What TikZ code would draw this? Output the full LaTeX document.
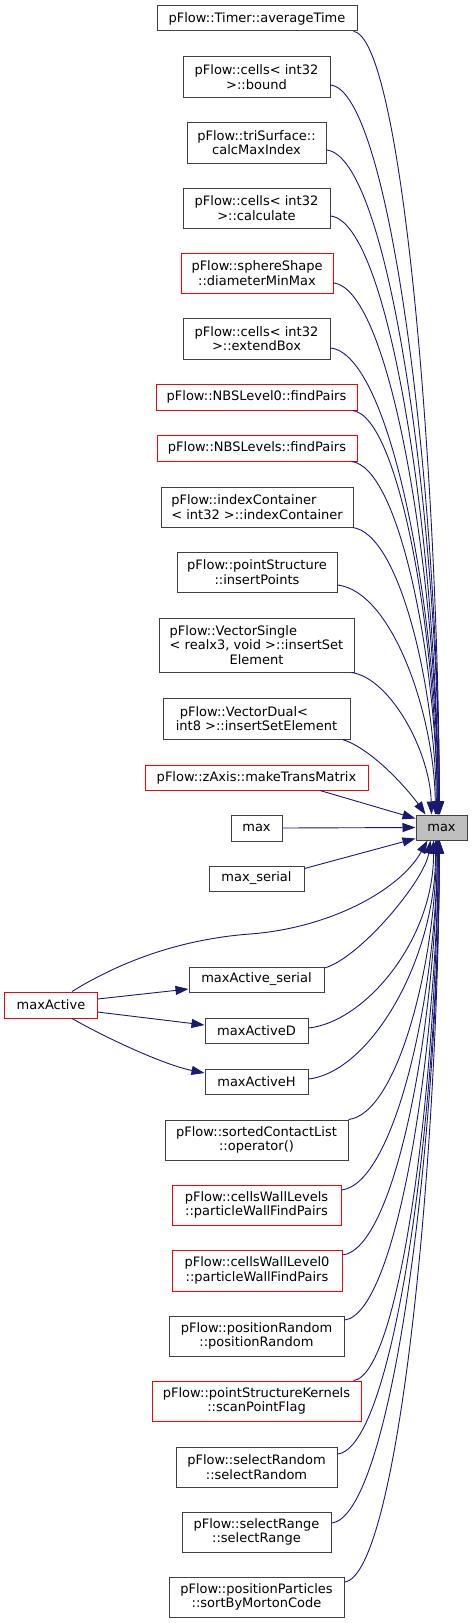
\documentclass[tikz,border=0pt]{standalone}
\usepackage{fontspec}
\setmainfont{DejaVu Sans}
\usetikzlibrary{arrows.meta,calc}
\definecolor{edgecol}{HTML}{191970}
\definecolor{boxgray}{HTML}{404040}
\definecolor{tgtfill}{HTML}{BFBFBF}
\begin{document}
\begin{tikzpicture}[x=1bp,y=-1bp,
  box/.style 2 args={draw=boxgray, line width=1bp, fill=white, inner sep=0pt, align=center,
    font=\fontsize{13bp}{14.5bp}\selectfont, minimum width=#1bp, minimum height=#2bp},
  rbox/.style 2 args={box={#1}{#2}, draw=red},
  calledge/.style={draw=edgecol, line width=0.9bp, -{Triangle[length=13bp,width=9bp]}}]
\useasboundingbox (0,0) rectangle (472,1623);

\node[box={200}{25}] (n1) at (257,18.5) {pFlow::Timer::averageTime};
\node[box={147}{40}] (n2) at (256.5,77) {pFlow::cells< int32\\>::bound};
\node[box={139}{41}] (n3) at (256.5,142.5) {pFlow::triSurface::\\calcMaxIndex};
\node[box={147}{40}] (n4) at (256.5,208) {pFlow::cells< int32\\>::calculate};
\node[rbox={152}{40}] (n5) at (257,273) {pFlow::sphereShape\\::diameterMinMax};
\node[box={147}{41}] (n6) at (256.5,338.5) {pFlow::cells< int32\\>::extendBox};
\node[rbox={201}{26}] (n7) at (256.5,397) {pFlow::NBSLevel0::findPairs};
\node[rbox={200}{26}] (n8) at (257,448) {pFlow::NBSLevels::findPairs};
\node[box={192}{40},align=left] (n9) at (257,507) {pFlow::indexContainer\\< int32 >::indexContainer};
\node[box={160}{40}] (n10) at (257,572) {pFlow::pointStructure\\::insertPoints};
\node[box={195}{54}] (n11) at (256.5,645) {\rlap{pFlow::VectorSingle}\phantom{< realx3, void >::insertSet}\\< realx3, void >::insertSet\\Element};
\node[box={187}{41},align=left] (n12) at (256.5,718.5) {\hspace*{4bp}pFlow::VectorDual<\\int8 >::insertSetElement};
\node[rbox={223}{25}] (n13) at (256.5,777.5) {pFlow::zAxis::makeTransMatrix};
\node[box={51}{26}] (n14) at (256.5,828) {max};
\node[box={51}{25},fill=tgtfill] (tgt) at (441.5,827.5) {max};
\node[box={95}{25}] (n15) at (256.5,878.5) {max\_serial};
\node[box={135}{25}] (mas) at (256.5,979.5) {maxActive\_serial};
\node[rbox={92}{26}] (ma) at (51,1005) {maxActive};
\node[box={103}{25}] (mad) at (256.5,1030.5) {maxActiveD};
\node[box={103}{25}] (mah) at (256.5,1081.5) {maxActiveH};
\node[box={183}{40}] (n20) at (256.5,1140) {pFlow::sortedContactList\\::operator()};
\node[rbox={169}{40}] (n21) at (256.5,1205) {pFlow::cellsWallLevels\\::particleWallFindPairs};
\node[rbox={170}{41}] (n22) at (257,1270.5) {pFlow::cellsWallLevel0\\::particleWallFindPairs};
\node[box={175}{40}] (n23) at (256.5,1336) {pFlow::positionRandom\\::positionRandom};
\node[rbox={209}{40}] (n24) at (256.5,1401) {pFlow::pointStructureKernels\\::scanPointFlag};
\node[box={161}{40}] (n25) at (256.5,1467) {pFlow::selectRandom\\::selectRandom};
\node[box={149}{40}] (n26) at (256.5,1532) {pFlow::selectRange\\::selectRange};
\node[box={175}{40}] (n27) at (256.5,1597) {pFlow::positionParticles\\::sortByMortonCode};

% callers above
\draw[calledge] ($(n1.south east)+(-4,0)$) .. controls (401,37) and (438,462) .. ($(tgt.north west)+(24,0)$);
\draw[calledge] ($(n2.east)+(0,8)$) .. controls (390,91) and (438,486) .. ($(tgt.north west)+(24,0)$);
\draw[calledge] ($(n3.east)+(0,7.5)$) .. controls (389,156) and (438,516) .. ($(tgt.north west)+(24,0)$);
\draw[calledge] ($(n4.east)+(0,8)$) .. controls (390,222) and (437,545) .. ($(tgt.north west)+(23,0)$);
\draw[calledge] ($(n5.east)+(0,10)$) .. controls (391,289) and (437,576) .. ($(tgt.north west)+(23,0)$);
\draw[calledge] ($(n6.east)+(0,9.5)$) .. controls (390,354) and (437,605) .. ($(tgt.north west)+(23,0)$);
\draw[calledge] ($(n7.south east)+(-5,0)$) .. controls (399,416) and (436,633) .. ($(tgt.north west)+(22,0)$);
\draw[calledge] ($(n8.south east)+(-6,0)$) .. controls (399,467) and (436,656) .. ($(tgt.north west)+(22,0)$);
\draw[calledge] ($(n9.south east)+(-1,0)$) .. controls (399,533) and (435,685) .. ($(tgt.north west)+(21,0)$);
\draw[calledge] ($(n10.east)+(0,13)$) .. controls (391,591) and (434,711) .. ($(tgt.north west)+(20,0)$);
\draw[calledge] ($(n11.south east)+(-3,0)$) .. controls (390,678) and (430,751) .. ($(tgt.north west)+(16,0)$);
\draw[calledge] ($(n12.south east)+(-8,0)$) .. controls (375,750) and (412,795) .. ($(tgt.north west)+(10,0)$);
\draw[calledge] ($(n13.south)+(63.5,0)$) -- ($(tgt.north west)+(0,4)$);
\draw[calledge] (n14.east) -- (tgt.west);
\draw[calledge] ($(n15.east)+(0,-10)$) -- ($(tgt.south west)+(0,-2)$);

% callers below
\draw[calledge] ($(ma.north)+(21,0)$) .. controls (110,968) and (170,940) .. (250,934) .. controls (330,928) and (400,890) .. ($(tgt.south west)+(12,0)$);
\draw[calledge] ($(mas.east)+(0,-11.5)$) .. controls (360,958) and (425,880) .. ($(tgt.south west)+(15,0)$);
\draw[calledge] ($(mad.east)+(0,-2.5)$) .. controls (365,1022) and (434,940) .. ($(tgt.south west)+(18,0)$);
\draw[calledge] ($(mah.east)+(0,-2.5)$) .. controls (370,1072) and (436,960) .. ($(tgt.south west)+(20,0)$);
\draw[calledge] (n20.north east) .. controls (397,1114) and (435,966) .. ($(tgt.south west)+(21,0)$);
\draw[calledge] ($(n21.east)+(0,-15)$) .. controls (394,1184) and (436,998) .. ($(tgt.south west)+(22,0)$);
\draw[calledge] ($(n22.east)+(0,-15.5)$) .. controls (395,1249) and (436,1027) .. ($(tgt.south west)+(22,0)$);
\draw[calledge] ($(n23.east)+(0,-16)$) .. controls (396,1314) and (437,1056) .. ($(tgt.south west)+(23,0)$);
\draw[calledge] ($(n24.north east)+(-8,0)$) .. controls (400,1375) and (437,1084) .. ($(tgt.south west)+(23,0)$);
\draw[calledge] ($(n25.east)+(0,-13)$) .. controls (394,1448) and (438,1117) .. ($(tgt.south west)+(24,0)$);
\draw[calledge] ($(n26.east)+(0,-9)$) .. controls (391,1517) and (438,1148) .. ($(tgt.south west)+(24,0)$);
\draw[calledge] ($(n27.east)+(0,-15)$) .. controls (397,1576) and (438,1174) .. ($(tgt.south west)+(24,0)$);

% maxActive callees
\draw[calledge] ($(ma.east)+(0,-6)$) -- ($(mas.west)+(0,9.5)$);
\draw[calledge] ($(ma.east)+(0,7)$) -- ($(mad.west)+(0,-5.5)$);
\draw[calledge] ($(ma.south)+(21,0)$) .. controls (110,1040) and (165,1065) .. ($(mah.west)+(0,-8.5)$);
\end{tikzpicture}
\end{document}
